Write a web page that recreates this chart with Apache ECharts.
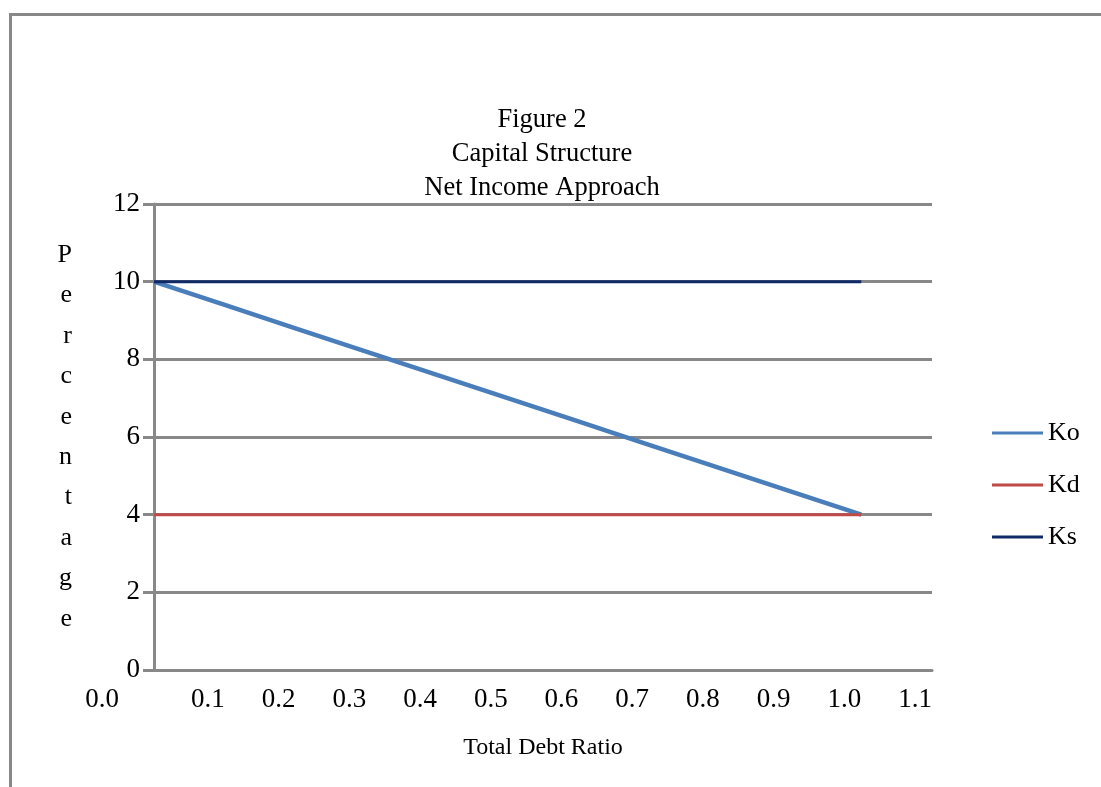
<!DOCTYPE html>
<html>
<head>
<meta charset="utf-8">
<script src="https://cdn.jsdelivr.net/npm/echarts@6/dist/echarts.min.js"></script>
<style>
  html, body { margin: 0; padding: 0; background: #fff; }
  #frame {
    position: absolute; left: 9px; top: 13px; width: 1092px; height: 774px;
    border-top: 3px solid #888; border-left: 3px solid #888; box-sizing: border-box;
  }
  #chart { position: absolute; left: 0; top: 0; width: 1101px; height: 787px; }
</style>
</head>
<body>
<div id="frame"></div>
<div id="chart"></div>
<script>
// Total debt ratio categories (tick labels on the x axis)
const debtRatios = ['0.0', '0.1', '0.2', '0.3', '0.4', '0.5', '0.6', '0.7', '0.8', '0.9', '1.0', '1.1'];
// Overall cost of capital, cost of debt and cost of equity (percent)
const ko = [10, 9.4, 8.8, 8.2, 7.6, 7.0, 6.4, 5.8, 5.2, 4.6, 4.0];
const kd = [4, 4, 4, 4, 4, 4, 4, 4, 4, 4, 4];
const ks = [10, 10, 10, 10, 10, 10, 10, 10, 10, 10, 10];
const yTicks = [0, 2, 4, 6, 8, 10, 12];

const serif = "'Liberation Serif', 'Times New Roman', serif";
const gray = '#888888';

const chart = echarts.init(document.getElementById('chart'));
chart.setOption({
  animation: false,
  textStyle: { fontFamily: serif, color: '#000' },
  title: {
    text: 'Figure 2\nCapital Structure\nNet Income Approach',
    left: 537, top: 98, textAlign: 'center',
    textStyle: { fontFamily: serif, fontSize: 26.5, fontWeight: 'normal', color: '#000', lineHeight: 34 }
  },
  legend: {
    orient: 'vertical', left: 992, top: 420, padding: 0,
    icon: 'rect', itemWidth: 51, itemHeight: 3, itemGap: 26,
    textStyle: { fontFamily: serif, fontSize: 26, color: '#000', lineHeight: 26, padding: [0, 0, 0, 0] },
    data: ['Ko', 'Kd', 'Ks']
  },
  grid: { left: 154, right: 169, top: 204, bottom: 117, containLabel: false },
  xAxis: {
    type: 'category', data: debtRatios, boundaryGap: false,
    name: 'Total Debt Ratio', nameLocation: 'middle', nameGap: 66,
    nameTextStyle: { fontFamily: serif, fontSize: 24, color: '#000' },
    axisLine: { lineStyle: { color: gray, width: 3 } },
    axisTick: { show: false },
    axisLabel: {
      interval: 0, align: 'right', margin: 16, fontSize: 27, color: '#000', fontFamily: serif,
      formatter: (v, i) => i === 0 ? '{first|' + v + '}' : v,
      rich: { first: { fontSize: 27, fontFamily: serif, color: '#000', padding: [0, 35, 0, 0] } }
    },
    splitLine: { show: false }
  },
  yAxis: {
    type: 'value', min: yTicks[0], max: yTicks[yTicks.length - 1], interval: 2,
    name: 'P\ne\nr\nc\ne\nn\nt\na\ng\ne', nameLocation: 'middle', nameGap: 82, nameRotate: 0,
    nameTextStyle: { fontFamily: serif, fontSize: 26, color: '#000', lineHeight: 40.4 },
    axisLine: { show: true, lineStyle: { color: gray, width: 3 } },
    axisTick: { show: true, inside: false, length: 11, lineStyle: { color: gray, width: 3 } },
    axisLabel: { margin: 14, fontSize: 27, color: '#000', fontFamily: serif },
    splitLine: { show: true, lineStyle: { color: gray, width: 3 } }
  },
  series: [
    { name: 'Ko', type: 'line', data: ko, symbol: 'none', lineStyle: { color: '#4a7ebb', width: 4.5 }, itemStyle: { color: '#4a7ebb' } },
    { name: 'Kd', type: 'line', data: kd, symbol: 'none', lineStyle: { color: '#be4b48', width: 3 }, itemStyle: { color: '#be4b48' } },
    { name: 'Ks', type: 'line', data: ks, symbol: 'none', lineStyle: { color: '#0f2a66', width: 3 }, itemStyle: { color: '#0f2a66' } }
  ]
});
</script>
</body>
</html>
